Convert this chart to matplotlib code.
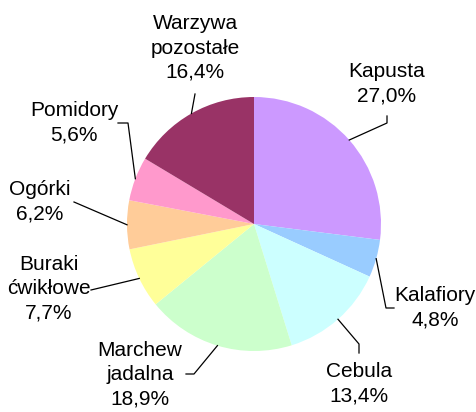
import numpy as np
import matplotlib
matplotlib.use("Agg")
import matplotlib.pyplot as plt

plt.rcParams['font.family'] = ['Liberation Sans', 'DejaVu Sans']

# data
categories = ['Kapusta', 'Kalafiory', 'Cebula', 'Marchew\njadalna', 'Buraki\nćwikłowe',
              'Ogórki', 'Pomidory', 'Warzywa\npozostałe']
shares = [27.0, 4.8, 13.4, 18.9, 7.7, 6.2, 5.6, 16.4]
colors = ['#CC99FF', '#99CCFF', '#CCFFFF', '#CCFFCC', '#FFFF99', '#FFCC99', '#FF99CC', '#993366']

# layout in pixel space (y down), converted below
W, H = 477, 412
cx, cy, R = 254, 224, 127
label_pos = [(387, 84), (435, 308), (359, 384), (140, 375), (49, 289), (40, 202), (74, 123), (195, 48)]
# leader line: extra points after the wedge edge point
leaders = [[(387, 123), (387, 116)],
           [(386, 308), (394, 308)],
           [(359, 344), (359, 353)],
           [(194, 374), (186, 374)],
           [(91, 290)],
           [(74, 202)],
           [(128, 123), (118, 123)],
           [(195, 94)]]

fig = plt.figure(figsize=(W / 100, H / 100), dpi=100)
ax = fig.add_axes([0, 0, 1, 1])

wedges, _ = ax.pie(shares, colors=colors, startangle=90, counterclock=False,
                   center=(cx, H - cy), radius=R, frame=True,
                   wedgeprops=dict(linewidth=0))
ax.set_xlim(0, W)
ax.set_ylim(0, H)
ax.set_aspect('equal')
ax.axis('off')

for w, name, val, (tx, ty), pts in zip(wedges, categories, shares, label_pos, leaders):
    mid = np.deg2rad((w.theta1 + w.theta2) / 2)
    x0 = cx + R * np.cos(mid)
    y0 = (H - cy) + R * np.sin(mid)
    xs = [x0] + [p[0] for p in pts]
    ys = [y0] + [H - p[1] for p in pts]
    ax.plot(xs, ys, color='black', lw=0.9)
    txt = name + '\n' + f'{val:.1f}%'.replace('.', ',')
    ax.text(tx, H - ty, txt, ha='center', va='center', fontsize=15,
            linespacing=1.36, color='black')

fig.savefig('out.png', dpi=100)
